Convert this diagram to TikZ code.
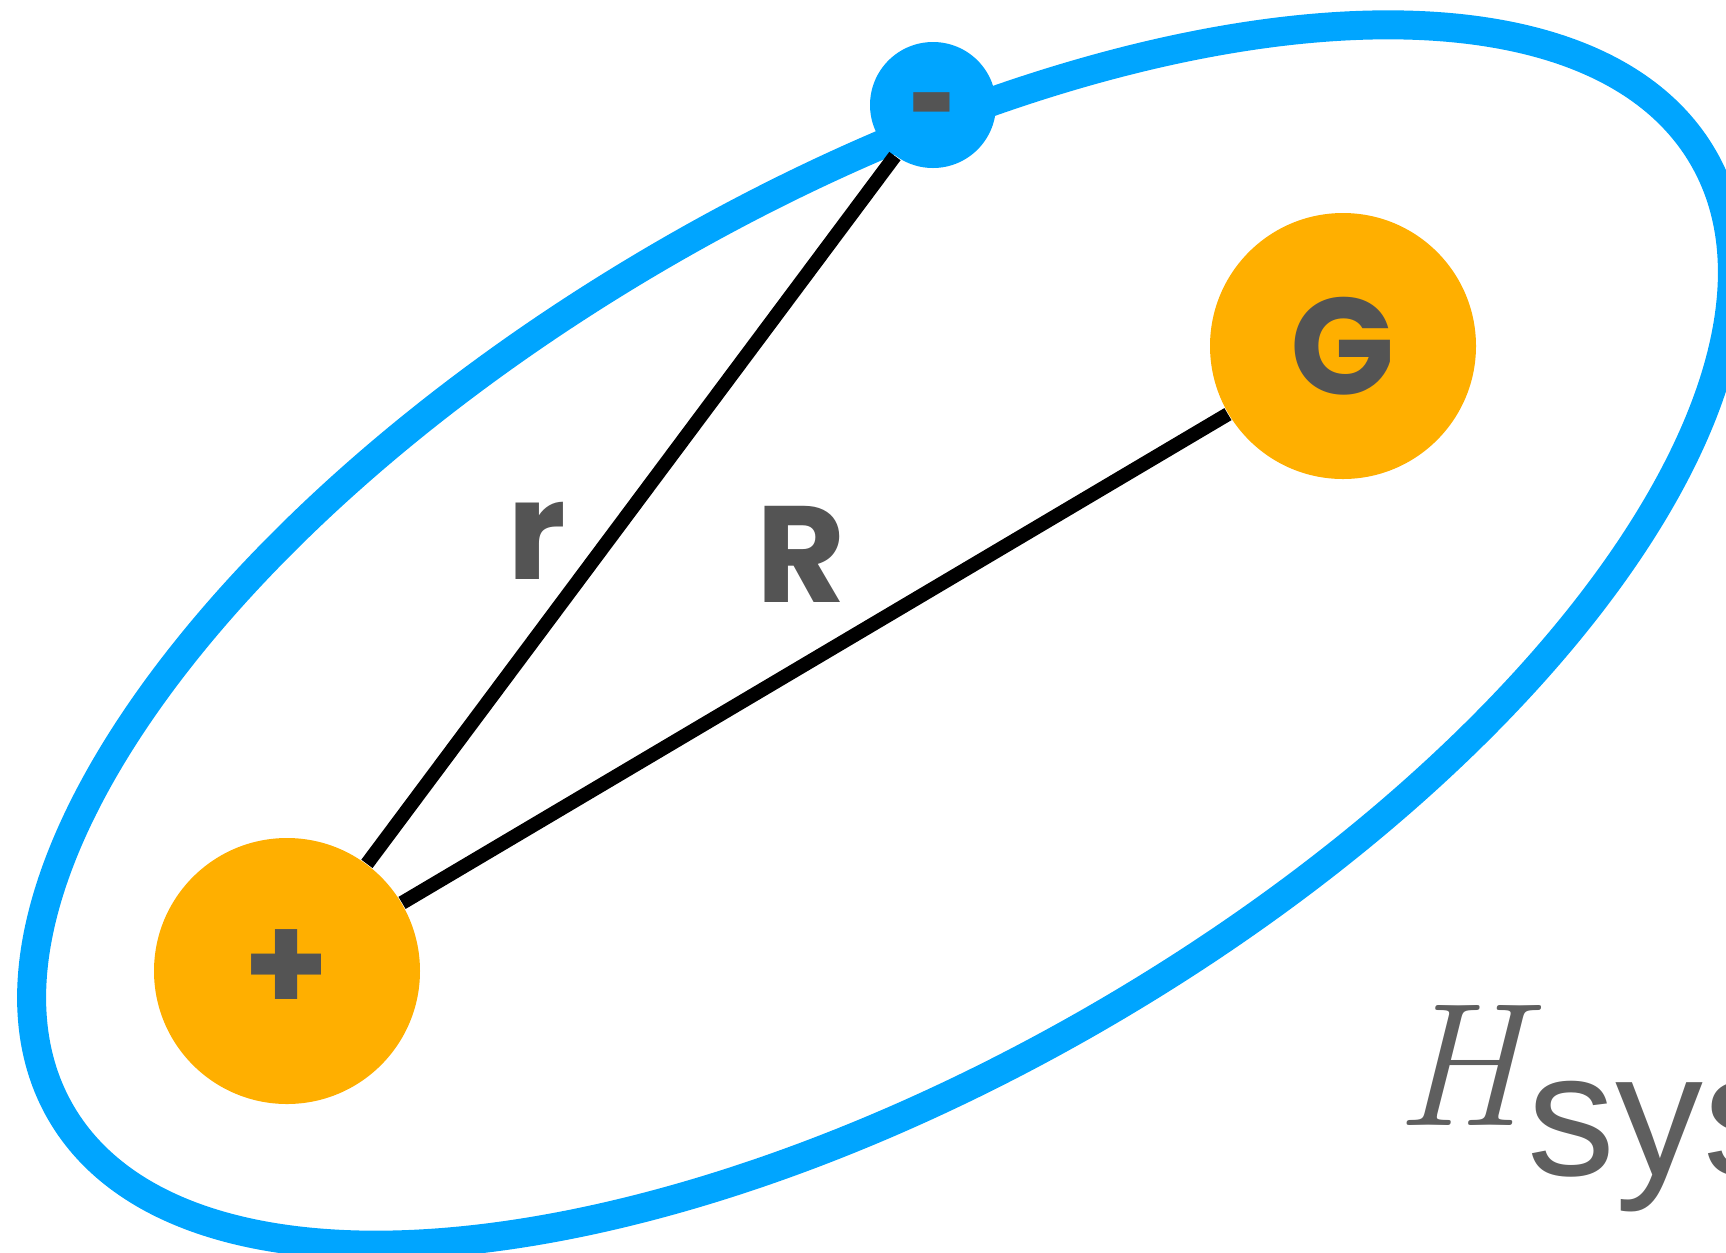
\documentclass[tikz,border=0pt]{standalone}
\usepackage{fontspec}
\usepackage{graphicx}
\usepackage{tikz}
\usetikzlibrary{backgrounds}
\newfontfamily\labelfont{Poppins}
\newfontfamily\sysfont{Liberation Sans}
\definecolor{Sky}{HTML}{00A5FF}
\definecolor{Gold}{HTML}{FFAF00}
\definecolor{Ink}{HTML}{545454}
\definecolor{Slate}{HTML}{5F5F5F}
\tikzset{
  orbit/.style={draw=Sky,line width=0.29cm},
  bond/.style={draw=black,line width=0.14cm},
  ball/.style={circle,fill=Gold,inner sep=0pt,minimum size=2.66cm,text=Ink,font=\labelfont\bfseries\fontsize{39}{39}\selectfont},
  eball/.style={ball,fill=Sky,minimum size=1.26cm},
  lbl/.style={inner sep=0pt,anchor=base,text=Ink,font=\labelfont\bfseries\fontsize{39}{39}\selectfont},
  hsys/.style={inner sep=0pt,anchor=base west,text=Slate,font=\fontsize{50}{50}\selectfont}
}
\begin{document}
\begin{tikzpicture}
  \useasboundingbox (0,0) rectangle (17.26,-12.52);
  \clip (0,0) rectangle (17.26,-12.52);
  \node[ball] (pos) at (2.87,-9.71) {+};
  \node[ball] (gam) at (13.43,-3.46) {G};
  \node[eball] (ele) at (9.33,-1.05) {\raisebox{-0.45cm}[0pt][0pt]{\scalebox{0.6}[1]{-}}};
  \node[lbl] (rlab) at (5.37,-5.79) {r};
  \node[lbl] (Rlab) at (8.01,-6.02) {R};
  \node[hsys] (ham) at (13.95,-11.25) {\itshape H\kern0.04cm\raisebox{-0.5cm}{\upshape\sysfont sys}};
  \begin{scope}[on background layer]
    \draw[orbit,rotate around={30.2:(8.82,-6.35)}] (8.82,-6.35) ellipse (9.5 and 4.39);
    \draw[bond] (pos)--(ele);
    \draw[bond] (pos)--(gam);
  \end{scope}
\end{tikzpicture}
\end{document}
